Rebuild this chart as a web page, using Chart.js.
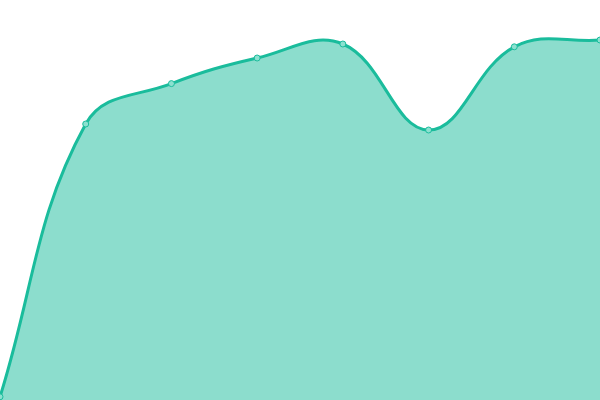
<!DOCTYPE html>
<html lang="en">
<head>
    <meta charset="UTF-8">
    <title>Area Line</title>
    <style>
        html, body {
            margin: 0;
            padding: 0;
            background: #ffffff;
        }

        #chart-box {
            width: 600px;
            height: 400px;
        }
    </style>
</head>
<body>
<div id="chart-box">
    <canvas id="area-chart"></canvas>
</div>

<script src="https://cdn.jsdelivr.net/npm/chart.js"></script>
<script>
    var labels = ['1', '2', '3', '4', '5', '6', '7', '8'];
    var values = [0.8, 69, 79.1, 85.5, 89, 67.5, 88.3, 90];

    var ctx = document.getElementById('area-chart').getContext('2d');
    var chart = new Chart(ctx, {
        type: 'line',
        data: {
            labels: labels,
            datasets: [{
                label: 'Series',
                data: values,
                fill: true,
                tension: 0.4,
                borderColor: '#1abc9c',
                backgroundColor: 'rgba(26, 188, 156, 0.5)',
                borderWidth: 3,
                pointRadius: 3,
                pointBorderWidth: 1,
                pointBackgroundColor: 'rgba(140, 225, 208, 1)',
                pointBorderColor: '#1abc9c'
            }]
        },
        options: {
            responsive: true,
            maintainAspectRatio: false,
            animation: false,
            layout: {padding: 0, autoPadding: false},
            plugins: {
                legend: {display: false},
                tooltip: {enabled: false}
            },
            scales: {
                x: {display: false},
                y: {display: false, min: 0, max: 100}
            }
        }
    });
</script>
</body>
</html>
